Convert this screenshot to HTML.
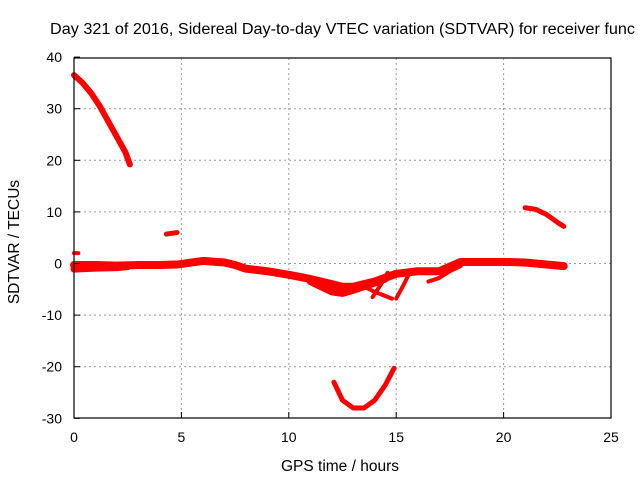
<!DOCTYPE html>
<html><head><meta charset="utf-8"><style>
body{margin:0;background:#fff}
svg{font-family:"Liberation Sans",sans-serif}
</style></head><body>
<svg id="c" width="640" height="480" viewBox="0 0 640 480">
<rect width="640" height="480" fill="#fff"/>
<text x="50" y="34" font-size="15.5" textLength="585" lengthAdjust="spacingAndGlyphs" fill="#000">Day 321 of 2016, Sidereal Day-to-day VTEC variation (SDTVAR) for receiver func</text>
<g id="grid"></g>
<g id="series"></g>
<rect x="74" y="58" width="537" height="360" fill="none" stroke="#000" stroke-width="1.2"/>
<g id="ticks"></g>
<text x="340" y="471" font-size="15.5" text-anchor="middle">GPS time / hours</text>
<text transform="translate(19,242) rotate(-90)" font-size="15.5" text-anchor="middle">SDTVAR / TECUs</text>
</svg>
<script>
const xTicks=[0,5,10,15,20,25];
const yTicks=[40,30,20,10,0,-10,-20,-30];
const segTopLeftT=[0,0.4,0.8,1.2,1.6,2.0,2.4,2.6];
const segTopLeftV=[36.5,35,33,30.5,27.5,24.5,21.5,19.2];
const segSmallT=[4.3,4.8];
const segSmallV=[5.7,6.0];
const segRightT=[21,21.5,22,22.5,22.8];
const segRightV=[10.8,10.5,9.5,8.0,7.2];
const segUT=[12.1,12.5,13,13.5,14,14.5,14.9];
const segUV=[-23,-26.5,-28,-28,-26.5,-23.5,-20.3];
const bandT=[0,1,2,3,4,4.8,5.5,6,7,7.5,8,9,10,11,12,12.5,13,14,15,16,17,18,19,20,21,22,22.8];
const bandV=[-0.3,-0.3,-0.4,-0.3,-0.3,-0.2,0.2,0.5,0.2,-0.3,-1,-1.5,-2.2,-3,-4,-4.5,-4.5,-3.5,-2,-1.5,-1.5,0.3,0.3,0.3,0.2,-0.2,-0.5];
const band2T=[0,1,2,2.5];
const band2V=[-1.1,-0.9,-0.8,-0.6];
const spikeT=[0,0.2];
const spikeV=[2.0,2.0];
const lowT=[11,11.5,12,12.5,13,13.5,14,14.5];
const lowV=[-3.5,-4.5,-5.5,-5.8,-5.2,-4.5,-3.8,-3];
const strand1T=[14.6,14.3,13.9];
const strand1V=[-1.8,-4,-6.5];
const strand2T=[15.6,15.3,15.0];
const strand2V=[-2,-4.5,-6.8];
const strand3T=[13.5,14.0,14.8];
const strand3V=[-4.5,-5.5,-6.8];
const strand4T=[16.5,17,17.5,18];
const strand4V=[-3.5,-2.8,-1.5,-0.5];
const xs=t=>74+t*21.48;
const ys=v=>263.5-v*5.16;
const NS="http://www.w3.org/2000/svg";
const grid=document.getElementById('grid'),ticks=document.getElementById('ticks'),ser=document.getElementById('series');
function mk(tag,at,parent){const e=document.createElementNS(NS,tag);for(const k in at)e.setAttribute(k,at[k]);parent.appendChild(e);return e;}
xTicks.forEach(t=>{
 const x=xs(t);
 if(t>0&&t<25){const g=mk('line',{x1:x,y1:58,x2:x,y2:418,stroke:'#999','stroke-dasharray':'2,3'},grid);
 
 }
 const tx=mk('text',{x:x,y:442,'font-size':14,'text-anchor':'middle'},ticks);tx.textContent=t;
 
 
 mk('line',{x1:x,y1:418,x2:x,y2:412,stroke:'#000'},ticks);
});
yTicks.forEach(v=>{
 const y=ys(v);
 if(v<40&&v>-30){const g=mk('line',{x1:74,y1:y,x2:611,y2:y,stroke:'#999','stroke-dasharray':'2,3'},grid);
 
 }
 const tx=mk('text',{x:62,y:y+5,'font-size':14,'text-anchor':'end'},ticks);tx.textContent=v;
 
 
 mk('line',{x1:74,y1:y,x2:80,y2:y,stroke:'#000'},ticks);
});
function line(T,V,w,name){
 const p=T.map((t,i)=>xs(t)+','+ys(V[i])).join(' ');
 const e=mk('polyline',{points:p,fill:'none',stroke:'#f00','stroke-width':w,'stroke-linejoin':'round','stroke-linecap':'round'},ser);
 
 
}
line(segTopLeftT,segTopLeftV,6,'series-top-left');
line(segSmallT,segSmallV,5,'series-small');
line(segRightT,segRightV,5,'series-right');
line(segUT,segUV,5,'series-u');
line(bandT,bandV,8,'series-band');
line(band2T,band2V,7,'series-band-lower-edge');
line(spikeT,spikeV,4,'series-spike');
line(lowT,lowV,7,'series-band-low');
line(strand1T,strand1V,4,'series-strand-1');
line(strand2T,strand2V,4,'series-strand-2');
line(strand3T,strand3V,4,'series-strand-3');
line(strand4T,strand4V,4,'series-strand-4');
</script>
</body></html>
